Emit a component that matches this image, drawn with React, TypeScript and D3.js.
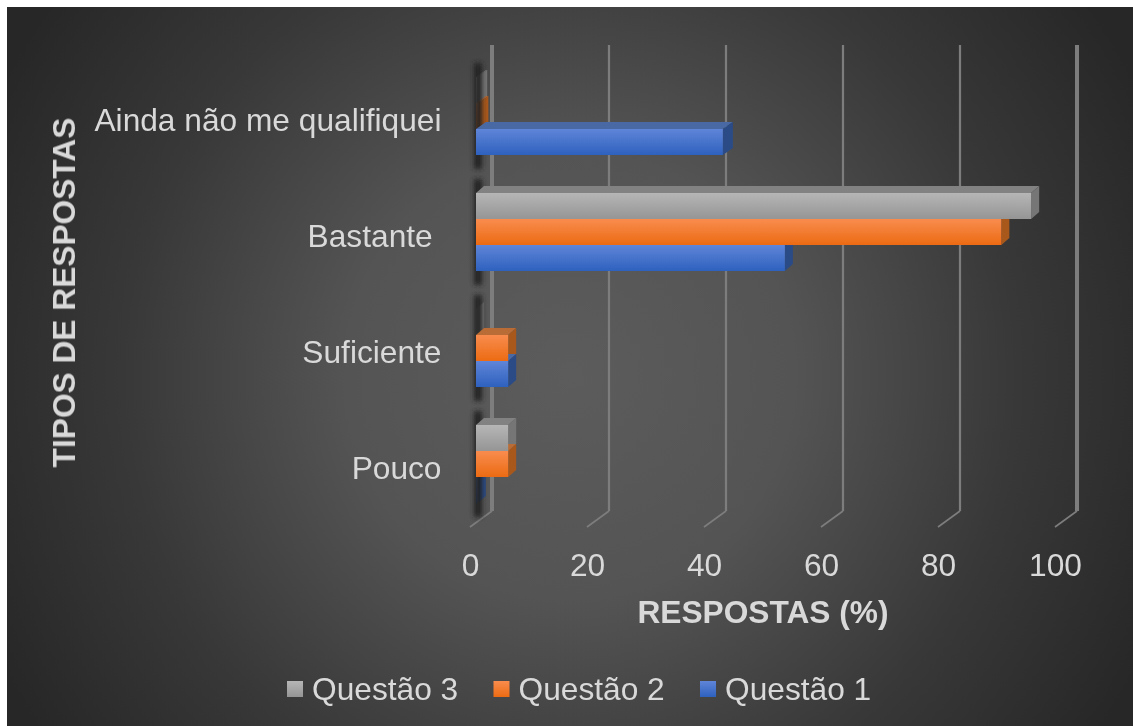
import React, { useEffect, useRef } from 'react';
import * as d3 from 'd3';

const categories = ['Ainda não me qualifiquei', 'Bastante ', 'Suficiente', 'Pouco'];
const seriesNames = ['Questão 3', 'Questão 2', 'Questão 1'];
const questao3 = [0.2, 94.9, 0, 5.5];
const questao2 = [0.4, 89.8, 5.5, 5.5];
const questao1 = [42.2, 52.8, 5.5, 0.3];
const seriesValues = [questao3, questao2, questao1];
const xTicks = [0, 20, 40, 60, 80, 100];

const palette = [
  { id: 'gray', hi: '#b6b6b6', lo: '#959595', top: '#828282', side: '#767676' },
  { id: 'orange', hi: '#f98c4e', lo: '#ec6b13', top: '#b96c35', side: '#a9591f' },
  { id: 'blue', hi: '#5f85d8', lo: '#2e61be', top: '#4a69a5', side: '#2a4b86' },
];

const textColor = '#d9d9d9';
const fontSize = '31.7px';
// the 3D depth of the bars grows a little towards the top of the plot
const depthXs = [10, 8, 8, 8];
const depthY = 7;

export default function App() {
  const ref = useRef<SVGSVGElement>(null);

  useEffect(() => {
    const svg = d3.select(ref.current);
    svg.selectAll('*').remove();

    const defs = svg.append('defs');

    const bg = defs
      .append('radialGradient')
      .attr('id', 'bg')
      .attr('gradientUnits', 'userSpaceOnUse')
      .attr('cx', 570)
      .attr('cy', 375)
      .attr('r', 640);
    bg.append('stop').attr('offset', 0).attr('stop-color', '#5c5c5c');
    bg.append('stop').attr('offset', 0.35).attr('stop-color', '#545454');
    bg.append('stop').attr('offset', 0.7).attr('stop-color', '#383838');
    bg.append('stop').attr('offset', 1).attr('stop-color', '#272727');

    palette.forEach((p) => {
      const g = defs
        .append('linearGradient')
        .attr('id', `front-${p.id}`)
        .attr('x1', 0)
        .attr('y1', 0)
        .attr('x2', 0)
        .attr('y2', 1);
      g.append('stop').attr('offset', 0).attr('stop-color', p.hi);
      g.append('stop').attr('offset', 1).attr('stop-color', p.lo);
    });

    defs
      .append('filter')
      .attr('id', 'wallBlur')
      .attr('x', '-100%')
      .attr('width', '300%')
      .attr('y', '-20%')
      .attr('height', '140%')
      .append('feGaussianBlur')
      .attr('stdDeviation', 2.4);
    defs
      .append('filter')
      .attr('id', 'soft')
      .attr('filterUnits', 'userSpaceOnUse')
      .attr('x', 0)
      .attr('y', 0)
      .attr('width', 1133)
      .attr('height', 726)
      .append('feGaussianBlur')
      .attr('stdDeviation', 0.5);

    svg
      .append('rect')
      .attr('x', 7)
      .attr('y', 7)
      .attr('width', 1126)
      .attr('height', 719)
      .attr('fill', 'url(#bg)');

    const x = d3.scaleLinear().domain([0, 100]).range([476, 1061]);
    const y = d3
      .scaleBand()
      .domain(categories)
      .range([58, 522])
      .paddingInner(38 / 116)
      .paddingOuter(19 / 116);
    const inner = d3
      .scaleBand()
      .domain(seriesNames)
      .range([0, y.bandwidth()]);

    // back gridlines with the little floor ticks
    const grid = svg
      .append('g')
      .attr('fill', 'none')
      .attr('stroke', '#7d7d7d')
      .attr('filter', 'url(#soft)');
    xTicks.forEach((t, i) => {
      const edge = i === 0 || i === xTicks.length - 1;
      grid
        .append('path')
        .attr('stroke-width', edge ? 4 : 2.2)
        .attr('d', `M${x(t) + 16},45V511`);
      grid
        .append('path')
        .attr('stroke-width', 1.6)
        .attr('d', `M${x(t) + 16},511L${x(t) - 6},527`);
    });

    const tiny = svg.append('g').attr('filter', 'url(#soft)');

    // dark wall behind the bars, one section per category
    const wall = svg.append('g').attr('filter', 'url(#wallBlur)').attr('fill', '#202020');
    categories.forEach((c) => {
      wall
        .append('rect')
        .attr('x', x(0) - 2)
        .attr('y', y(c)! - 14)
        .attr('width', 8)
        .attr('height', y.step() - 10);
    });

    const bars = svg.append('g').attr('filter', 'url(#soft)');

    // top and side faces first, top series first; near-zero bars sit behind the wall
    seriesNames.forEach((s, si) => {
      const p = palette[si];
      categories.forEach((c, ci) => {
        const v = seriesValues[si][ci];
        const x0 = x(0);
        const x1 = x(v);
        const y0 = y(c)! + inner(s)!;
        const h = inner.bandwidth();
        const dx = depthXs[ci];
        const layer = v < 1 ? tiny : bars;
        layer
          .append('path')
          .attr('fill', p.top)
          .attr('d', `M${x0},${y0}L${x0 + dx},${y0 - depthY}H${x1 + dx}L${x1},${y0}Z`);
        layer
          .append('path')
          .attr('fill', p.side)
          .attr('d', `M${x1},${y0}L${x1 + dx},${y0 - depthY}V${y0 + h - depthY}L${x1},${y0 + h}Z`);
      });
    });

    seriesNames.forEach((s, si) => {
      categories.forEach((c, ci) => {
        const v = seriesValues[si][ci];
        (v < 1 ? tiny : bars)
          .append('rect')
          .attr('x', x(0))
          .attr('y', y(c)! + inner(s)!)
          .attr('width', x(v) - x(0))
          .attr('height', inner.bandwidth())
          .attr('fill', `url(#front-${palette[si].id})`);
      });
    });

    const font = '"Liberation Sans", Arial, sans-serif';
    const labels = svg.append('g').attr('filter', 'url(#soft)');

    const xAxis = labels
      .append('g')
      .attr('transform', 'translate(-6,553)')
      .call(d3.axisBottom(x).tickValues(xTicks).tickSize(0).tickPadding(0));
    xAxis.select('.domain').remove();
    xAxis
      .selectAll('text')
      .attr('fill', textColor)
      .style('font-family', font)
      .style('font-size', fontSize);

    const yAxis = labels
      .append('g')
      .attr('transform', 'translate(441.5,4.5)')
      .call(d3.axisLeft(y).tickSize(0).tickPadding(0));
    yAxis.select('.domain').remove();
    yAxis
      .selectAll('text')
      .attr('fill', textColor)
      .style('white-space', 'pre')
      .style('font-family', font)
      .style('font-size', fontSize);

    labels
      .append('text')
      .attr('x', 763)
      .attr('y', 623)
      .attr('text-anchor', 'middle')
      .attr('fill', textColor)
      .style('font-family', font)
      .style('font-size', fontSize)
      .style('font-weight', 'bold')
      .text('RESPOSTAS (%)');

    labels
      .append('text')
      .attr('transform', 'translate(75,292.5) rotate(-90)')
      .attr('text-anchor', 'middle')
      .attr('fill', textColor)
      .style('font-family', font)
      .style('font-size', fontSize)
      .style('font-weight', 'bold')
      .text('TIPOS DE RESPOSTAS');

    // legend
    const legendX = d3
      .scalePoint()
      .domain(seriesNames)
      .range([287, 700]);
    const legend = labels
      .append('g')
      .selectAll('g')
      .data(seriesNames)
      .enter()
      .append('g')
      .attr('transform', (d) => `translate(${legendX(d)},0)`);
    legend
      .append('rect')
      .attr('y', 681)
      .attr('width', 16)
      .attr('height', 16)
      .attr('fill', (d, i) => `url(#front-${palette[i].id})`);
    legend
      .append('text')
      .attr('x', 25)
      .attr('y', 700)
      .attr('fill', textColor)
      .style('font-family', font)
      .style('font-size', fontSize)
      .text((d) => d);
  }, []);

  return (
    <svg
      ref={ref}
      width={1133}
      height={726}
      style={{ position: 'absolute', left: 0, top: 0, display: 'block' }}
    />
  );
}
